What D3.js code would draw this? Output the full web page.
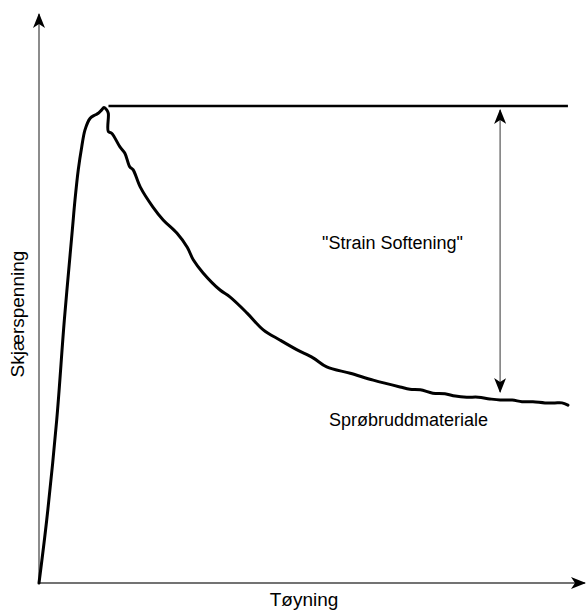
<!DOCTYPE html>
<html>
<head>
<meta charset="utf-8">
<script src="https://cdn.jsdelivr.net/npm/d3@7"></script>
<style>
html,body{margin:0;padding:0;background:#fff;}
svg text{font-family:"Liberation Sans",Arial,Helvetica,sans-serif;fill:#000;}
</style>
</head>
<body>
<svg id="chart" width="586" height="611"></svg>
<script>
// Data (strain in % of axis length, shear stress in % of axis height)
const strain = [0, 1.41, 3.24, 4.63, 6.09, 6.58, 7.18, 7.81, 8.41, 9.32, 10.24, 10.84, 11.46, 11.88, 12.38, 12.67, 12.67, 13.29,
  14.8, 15.7, 16.6, 17.2, 18.5, 20.8, 22.7, 25.2, 27.1, 28.2, 30.0, 33.1, 34.9, 38.0, 41.0, 44.1, 47.2, 50.1, 52.6, 56.9, 61.1,
  66.0, 67.8, 69.7, 72.0, 74.2, 76.1, 78.2, 80.3, 82.4, 84.3, 86.5, 88.3, 90.3, 92.5, 94.3, 95.6, 96.7];
const stress = [0, 11.05, 28.6, 46.1, 61.9, 67.2, 72.5, 76.5, 79.5, 81.5, 82.1, 82.4, 83.0, 83.4, 83.0, 82.4, 79.2, 78.9,
  76.5, 75.4, 73.0, 72.5, 69.5, 66.0, 63.7, 61.4, 58.9, 56.7, 54.4, 51.4, 50.2, 47.4, 44.4, 42.6, 40.9, 39.5, 37.9, 36.8, 35.6,
  34.4, 34.0, 33.9, 33.3, 33.2, 32.8, 32.6, 32.6, 32.3, 32.1, 32.1, 31.8, 31.8, 31.6, 31.6, 31.6, 31.2];
const peakLine = {x0: 12.7, x1: 96.7, level: 83.7};
const softArrow = {x: 84.3, top: 83.0, bottom: 33.5};
const labels = {x: "Tøyning", y: "Skjærspenning", soft: "\"Strain Softening\"", material: "Sprøbruddmateriale"};

const svg = d3.select("#chart");
const x = d3.scaleLinear().domain([0, 100]).range([39, 586]);
const y = d3.scaleLinear().domain([0, 100]).range([583, 13]);

// arrowhead markers
const defs = svg.append("defs");
defs.append("marker").attr("id", "ah")
  .attr("viewBox", "0 0 15 12").attr("refX", 14).attr("refY", 6)
  .attr("markerWidth", 15).attr("markerHeight", 12).attr("markerUnits", "userSpaceOnUse")
  .attr("orient", "auto-start-reverse")
  .append("path").attr("d", "M0,0 L15,6 L0,12 L4,6 Z").attr("fill", "#000");

// axes
svg.append("line").attr("x1", x(0)).attr("y1", y(0)).attr("x2", x(0)).attr("y2", y(100) + 1)
  .attr("stroke", "#666").attr("stroke-width", 1.5).attr("marker-end", "url(#ah)");
svg.append("line").attr("x1", x(0)).attr("y1", y(0)).attr("x2", x(100) - 1).attr("y2", y(0))
  .attr("stroke", "#444").attr("stroke-width", 1.5).attr("marker-end", "url(#ah)");

// curve
const pts = strain.map((s, i) => [s, stress[i]]);
const line = d3.line().x(d => x(d[0])).y(d => y(d[1])).curve(d3.curveCatmullRom.alpha(0.5));
svg.append("path").datum(pts).attr("d", line)
  .attr("fill", "none").attr("stroke", "#000").attr("stroke-width", 3)
  .attr("stroke-linejoin", "round").attr("stroke-linecap", "round");

// peak line
svg.append("line").attr("x1", x(peakLine.x0)).attr("x2", x(peakLine.x1))
  .attr("y1", y(peakLine.level)).attr("y2", y(peakLine.level))
  .attr("stroke", "#000").attr("stroke-width", 2.5);

// double arrow
svg.append("line").attr("x1", x(softArrow.x)).attr("x2", x(softArrow.x))
  .attr("y1", y(softArrow.bottom)).attr("y2", y(softArrow.top))
  .attr("stroke", "#777").attr("stroke-width", 1.5)
  .attr("marker-start", "url(#ah)").attr("marker-end", "url(#ah)");

// texts
svg.append("text").attr("x", 322).attr("y", 249).attr("font-size", 18).text(labels.soft);
svg.append("text").attr("x", 329).attr("y", 426).attr("font-size", 18).text(labels.material);
svg.append("text").attr("x", 304).attr("y", 606).attr("text-anchor", "middle").attr("font-size", 19).text(labels.x);
svg.append("text").attr("transform", "translate(24,314) rotate(-90)").attr("text-anchor", "middle")
  .attr("font-size", 19).text(labels.y);
</script>
</body>
</html>
